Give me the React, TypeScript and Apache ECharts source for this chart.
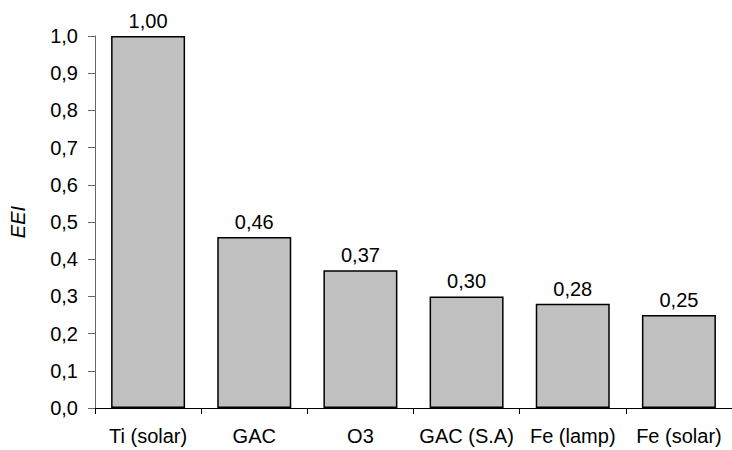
import React, { useEffect, useRef } from "react";
import * as echarts from "echarts";

const categories = ["Ti (solar)", "GAC", "O3", "GAC (S.A)", "Fe (lamp)", "Fe (solar)"];
const values = [1.0, 0.46, 0.37, 0.3, 0.28, 0.25];

export default function App() {
  const ref = useRef<HTMLDivElement>(null);
  useEffect(() => {
    const chart = echarts.init(ref.current!, null, { renderer: "svg" });
    const font = "Liberation Sans";
    chart.setOption({
      animation: false,
      grid: { left: 92, top: 36, width: 640, height: 372, containLabel: false },
      xAxis: {
        type: "category",
        data: categories,
        axisLine: { lineStyle: { color: "#000", width: 1 } },
        axisTick: { show: true, alignWithLabel: false, length: 6, lineStyle: { color: "#000", width: 1 } },
        axisLabel: { color: "#000", fontSize: 20, fontFamily: font, margin: 18, interval: 0 },
      },
      yAxis: {
        type: "value",
        min: 0,
        max: 1,
        interval: 0.1,
        name: "EEI",
        nameLocation: "middle",
        nameGap: 67,
        nameRotate: 90,
        nameTextStyle: { color: "#000", fontSize: 20, fontStyle: "italic", fontFamily: font },
        axisLine: { show: true, lineStyle: { color: "#666", width: 1 } },
        axisTick: { show: true, length: 7, lineStyle: { color: "#666" } },
        splitLine: { show: false },
        axisLabel: {
          color: "#000",
          fontSize: 20,
          fontFamily: font,
          margin: 17,
          formatter: (v: number) => v.toFixed(1).replace(".", ","),
        },
      },
      series: [
        {
          type: "bar",
          data: values,
          barWidth: 74,
          itemStyle: { color: "#c0c0c0", borderColor: "#000", borderWidth: 1.5 },
          label: {
            show: true,
            position: "top",
            distance: 5,
            color: "#000",
            fontSize: 20,
            fontFamily: font,
            formatter: (p: any) => p.value.toFixed(2).replace(".", ","),
          },
        },
      ],
    });
    return () => chart.dispose();
  }, []);
  return <div ref={ref} style={{ width: 732, height: 450, position: "absolute", left: 0, top: 0 }} />;
}
